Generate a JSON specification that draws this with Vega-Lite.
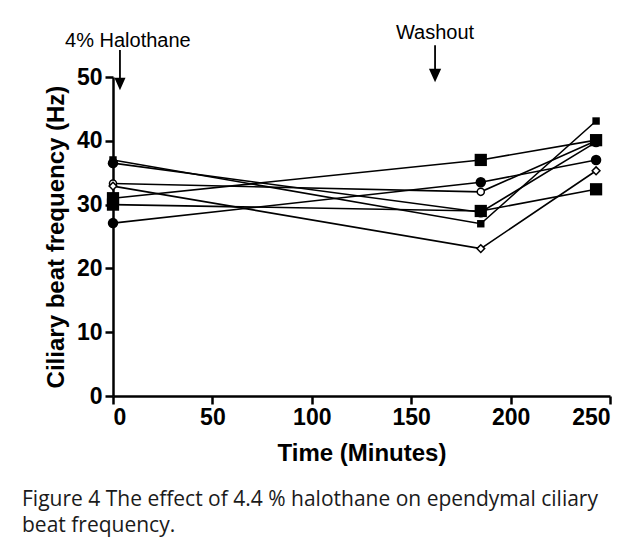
{
  "$schema": "https://vega.github.io/schema/vega-lite/v6.json",
  "width": 497,
  "height": 319,
  "autosize": "none",
  "padding": {"left": 113, "top": 77, "right": 25, "bottom": 142},
  "background": "white",
  "config": {"view": {"stroke": null}, "font": "Liberation Sans"},
  "title": {
    "text": ["Figure 4 The effect of 4.4 % halothane on ependymal ciliary", "beat frequency."],
    "orient": "bottom",
    "anchor": "start",
    "frame": "group",
    "dx": -91,
    "offset": 24,
    "font": "Open Sans",
    "fontSize": 21,
    "fontWeight": "normal",
    "lineHeight": 26,
    "color": "#1a1a1a"
  },
  "datasets": {
    "cbf": [
      {"series": "S1", "time": 0, "cbf": 31.0, "marker": "bigsquare"},
      {"series": "S1", "time": 185, "cbf": 37.0, "marker": "bigsquare"},
      {"series": "S1", "time": 243, "cbf": 40.1, "marker": "bigsquare"},
      {"series": "S2", "time": 0, "cbf": 30.0, "marker": "bigsquare"},
      {"series": "S2", "time": 185, "cbf": 29.0, "marker": "bigsquare"},
      {"series": "S2", "time": 243, "cbf": 32.4, "marker": "bigsquare"},
      {"series": "S3", "time": 0, "cbf": 27.1, "marker": "circle"},
      {"series": "S3", "time": 185, "cbf": 33.5, "marker": "circle"},
      {"series": "S3", "time": 243, "cbf": 37.0, "marker": "circle"},
      {"series": "S4", "time": 0, "cbf": 32.9, "marker": "opendiamond"},
      {"series": "S4", "time": 185, "cbf": 23.1, "marker": "opendiamond"},
      {"series": "S4", "time": 243, "cbf": 35.3, "marker": "opendiamond"},
      {"series": "S5", "time": 0, "cbf": 33.3, "marker": "opencircle"},
      {"series": "S5", "time": 185, "cbf": 32.0, "marker": "opencircle"},
      {"series": "S5", "time": 243, "cbf": 40.0, "marker": "opencircle"},
      {"series": "S6", "time": 0, "cbf": 37.0, "marker": "smallsquare"},
      {"series": "S6", "time": 185, "cbf": 27.0, "marker": "smallsquare"},
      {"series": "S6", "time": 243, "cbf": 43.1, "marker": "smallsquare"},
      {"series": "S7", "time": 0, "cbf": 36.5, "marker": "circle"},
      {"series": "S7", "time": 185, "cbf": 28.8, "marker": "circle"},
      {"series": "S7", "time": 243, "cbf": 39.8, "marker": "circle"}
    ],
    "events": [
      {"label": "4% Halothane", "time": 3.5, "labelTime": 7.5},
      {"label": "Washout", "time": 162, "labelTime": 162}
    ]
  },
  "layer": [
    {
      "data": {"name": "cbf"},
      "mark": {"type": "line", "color": "black", "strokeWidth": 1.6},
      "encoding": {
        "x": {
          "field": "time", "type": "quantitative",
          "scale": {"domain": [0, 250], "nice": false, "zero": false},
          "axis": {
            "title": "Time (Minutes)", "values": [0, 50, 100, 150, 200, 250],
            "grid": false, "domainColor": "black", "domainWidth": 2.5, "tickColor": "black", "tickWidth": 2.5, "tickSize": 8,
            "labelFont": "Liberation Sans", "labelFontSize": 23, "labelFontWeight": "bold", "labelColor": "black", "labelPadding": 2,
            "titleFont": "Liberation Sans", "titleFontSize": 24, "titleFontWeight": "bold", "titleColor": "black", "titlePadding": 12
          }
        },
        "y": {
          "field": "cbf", "type": "quantitative",
          "scale": {"domain": [0, 50], "nice": false},
          "axis": {
            "title": "Ciliary beat frequency (Hz)", "values": [0, 10, 20, 30, 40, 50],
            "grid": false, "domainColor": "black", "domainWidth": 2.5, "tickColor": "black", "tickWidth": 2.5, "tickSize": 8,
            "labelFont": "Liberation Sans", "labelFontSize": 23, "labelFontWeight": "bold", "labelColor": "black", "labelPadding": 3,
            "titleFont": "Liberation Sans", "titleFontSize": 24, "titleFontWeight": "bold", "titleColor": "black", "titlePadding": 8
          }
        },
        "detail": {"field": "series"},
        "order": {"field": "time"}
      }
    },
    {
      "data": {"name": "cbf"},
      "transform": [{"filter": "datum.marker === 'opencircle'"}],
      "mark": {"type": "point", "shape": "circle", "fill": "white", "stroke": "black", "strokeWidth": 1.5, "size": 50, "opacity": 1},
      "encoding": {"x": {"field": "time", "type": "quantitative"}, "y": {"field": "cbf", "type": "quantitative"}}
    },
    {
      "data": {"name": "cbf"},
      "transform": [{"filter": "datum.marker === 'opendiamond'"}],
      "mark": {"type": "point", "shape": "diamond", "fill": "white", "stroke": "black", "strokeWidth": 1.5, "size": 60, "opacity": 1},
      "encoding": {"x": {"field": "time", "type": "quantitative"}, "y": {"field": "cbf", "type": "quantitative"}}
    },
    {
      "data": {"name": "cbf"},
      "transform": [{"filter": "datum.marker === 'circle'"}],
      "mark": {"type": "point", "shape": "circle", "filled": true, "color": "black", "size": 110, "opacity": 1},
      "encoding": {"x": {"field": "time", "type": "quantitative"}, "y": {"field": "cbf", "type": "quantitative"}}
    },
    {
      "data": {"name": "cbf"},
      "transform": [{"filter": "datum.marker === 'bigsquare'"}],
      "mark": {"type": "point", "shape": "square", "filled": true, "color": "black", "size": 150, "opacity": 1},
      "encoding": {"x": {"field": "time", "type": "quantitative"}, "y": {"field": "cbf", "type": "quantitative"}}
    },
    {
      "data": {"name": "cbf"},
      "transform": [{"filter": "datum.marker === 'smallsquare'"}],
      "mark": {"type": "point", "shape": "square", "filled": true, "color": "black", "size": 55, "opacity": 1},
      "encoding": {"x": {"field": "time", "type": "quantitative"}, "y": {"field": "cbf", "type": "quantitative"}}
    },
    {
      "data": {"name": "events"},
      "transform": [{"filter": "datum.label === '4% Halothane'"}],
      "mark": {"type": "point", "shape": "M0,-1L0,0.55M-0.22,0.5L0,1L0.22,0.5Z", "filled": true, "fill": "black", "stroke": "black", "strokeWidth": 1.8, "size": 1444, "opacity": 1, "clip": false},
      "encoding": {"x": {"field": "time", "type": "quantitative"}, "y": {"datum": 51.25, "type": "quantitative"}}
    },
    {
      "data": {"name": "events"},
      "transform": [{"filter": "datum.label === 'Washout'"}],
      "mark": {"type": "point", "shape": "M0,-1L0,0.45M-0.27,0.4L0,1L0.27,0.4Z", "filled": true, "fill": "black", "stroke": "black", "strokeWidth": 1.8, "size": 1225, "opacity": 1, "clip": false},
      "encoding": {"x": {"field": "time", "type": "quantitative"}, "y": {"datum": 52.25, "type": "quantitative"}}
    },
    {
      "data": {"name": "events"},
      "transform": [{"filter": "datum.label === '4% Halothane'"}],
      "mark": {"type": "text", "font": "Liberation Sans", "fontSize": 20, "color": "black", "baseline": "bottom", "clip": false},
      "encoding": {"x": {"field": "labelTime", "type": "quantitative"}, "y": {"datum": 54.0, "type": "quantitative"}, "text": {"field": "label"}}
    },
    {
      "data": {"name": "events"},
      "transform": [{"filter": "datum.label === 'Washout'"}],
      "mark": {"type": "text", "font": "Liberation Sans", "fontSize": 20, "color": "black", "baseline": "bottom", "clip": false},
      "encoding": {"x": {"field": "labelTime", "type": "quantitative"}, "y": {"datum": 55.3, "type": "quantitative"}, "text": {"field": "label"}}
    }
  ]
}
